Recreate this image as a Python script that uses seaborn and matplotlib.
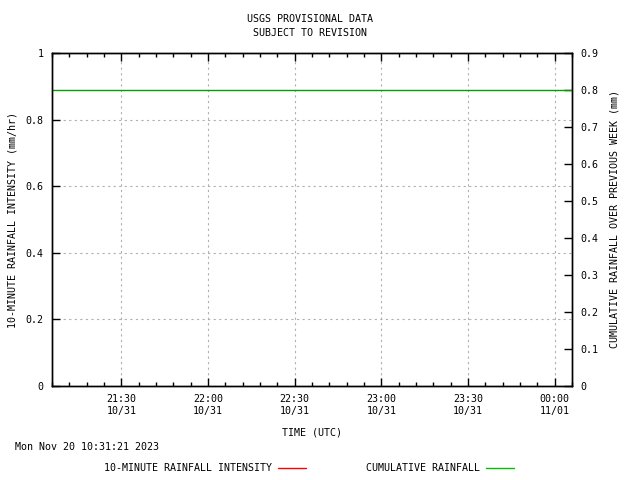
import matplotlib
matplotlib.use("Agg")
import matplotlib.pyplot as plt
import matplotlib.dates as mdates
from matplotlib.lines import Line2D
import seaborn as sns
import pandas as pd

# dados
intensity_times = []          # sem dados de intensidade no periodo
intensity_values = []
cumulative_times = ["2023-10-31 21:00", "2023-10-31 21:30", "2023-10-31 22:00",
                    "2023-10-31 22:30", "2023-10-31 23:00", "2023-10-31 23:30",
                    "2023-11-01 00:00", "2023-11-01 00:10"]
cumulative_values = [0.8, 0.8, 0.8, 0.8, 0.8, 0.8, 0.8, 0.8]

x_start = pd.Timestamp("2023-10-31 21:06")
x_end = pd.Timestamp("2023-11-01 00:06")

title_lines = "USGS PROVISIONAL DATA\nSUBJECT TO REVISION"
stamp = "Mon Nov 20 10:31:21 2023"

sns.set_style("white")
plt.rcParams['font.family'] = ['DejaVu Sans Mono']
plt.rcParams['font.size'] = 7.2
plt.rcParams['text.color'] = 'black'
plt.rcParams['axes.labelcolor'] = 'black'
plt.rcParams['xtick.color'] = 'black'
plt.rcParams['ytick.color'] = 'black'
plt.rcParams['xtick.direction'] = 'in'
plt.rcParams['ytick.direction'] = 'in'

df_int = pd.DataFrame({"time": pd.to_datetime(intensity_times), "value": pd.Series(intensity_values, dtype=float)})
df_cum = pd.DataFrame({"time": pd.to_datetime(cumulative_times), "value": cumulative_values})

fig = plt.figure(figsize=(6.4, 4.8), dpi=100)
ax = fig.add_axes([52 / 640, 1 - 386 / 480, 520 / 640, 333 / 480])
ax2 = ax.twinx()

if len(df_int):
    sns.lineplot(data=df_int, x="time", y="value", ax=ax, color="#ff0000", linewidth=1)
sns.lineplot(data=df_cum, x="time", y="value", ax=ax2, color="#00a000", linewidth=1)

ax.set_xlim(x_start, x_end)
ax.set_ylim(0, 1)
ax2.set_ylim(0, 0.9)

ax.xaxis.set_major_locator(mdates.MinuteLocator(byminute=[0, 30]))
ax.xaxis.set_minor_locator(mdates.MinuteLocator(byminute=range(0, 60, 6)))
ax.xaxis.set_major_formatter(mdates.DateFormatter("%H:%M\n%m/%d"))
ax.set_yticks([0, 0.2, 0.4, 0.6, 0.8, 1])
ax.set_yticklabels(["0", "0.2", "0.4", "0.6", "0.8", "1"])
ax2.set_yticks([i / 10 for i in range(10)])
ax2.set_yticklabels(["0"] + ["%.1f" % (i / 10) for i in range(1, 10)])

ax.tick_params(axis="x", which="major", direction="in", length=6, width=1, top=True, bottom=True, pad=6)
ax.tick_params(axis="x", which="minor", direction="in", length=3, width=1, top=True, bottom=True)
ax.tick_params(axis="y", which="both", direction="in", length=6, width=1, left=True, right=False, pad=6)
ax2.tick_params(axis="y", which="both", direction="in", length=6, width=1, right=True, left=False, pad=6)

ax.grid(True, which="major", color="#b0b0b0", linestyle=(0, (2, 3)), linewidth=0.8)
for a in (ax, ax2):
    for s in a.spines.values():
        s.set_color("black")
        s.set_linewidth(1)

ax.set_xlabel("TIME (UTC)", labelpad=8)
ax.set_ylabel("10-MINUTE RAINFALL INTENSITY (mm/hr)", labelpad=6)
ax2.set_ylabel("CUMULATIVE RAINFALL OVER PREVIOUS WEEK (mm)", labelpad=8)

fig.text(310 / 640, 1 - 26 / 480, title_lines, ha="center", va="center", linespacing=1.4)
fig.text(15 / 640, 1 - 447 / 480, stamp, ha="left", va="center")

handles = [Line2D([], [], color="#ff0000", linewidth=1),
           Line2D([], [], color="#00c000", linewidth=1)]
fig.legend(handles, ["10-MINUTE RAINFALL INTENSITY", "CUMULATIVE RAINFALL"],
           loc="center", bbox_to_anchor=(309 / 640, 1 - 468 / 480), ncol=2,
           markerfirst=False, frameon=False, columnspacing=6, handlelength=2.8,
           handletextpad=0.6)

plt.savefig("out.png", dpi=100)
